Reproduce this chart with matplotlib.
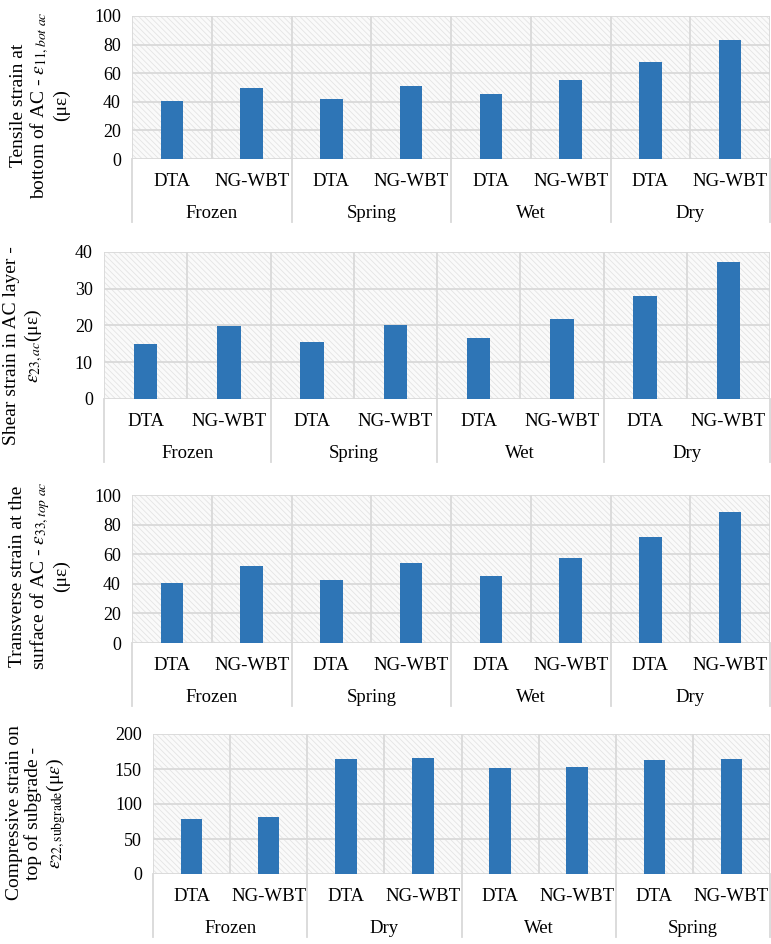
import matplotlib
matplotlib.use("Agg")
from matplotlib import pyplot as plt
from matplotlib.patches import Rectangle
from matplotlib.lines import Line2D

plt.rcParams['font.family'] = ['Liberation Serif', 'DejaVu Serif']
plt.rcParams['mathtext.fontset'] = 'stix'
plt.rcParams['hatch.color'] = '#e4e4e4'
plt.rcParams['hatch.linewidth'] = 0.6

methods = ["DTA", "NG-WBT"]

seasons_1 = ["Frozen", "Spring", "Wet", "Dry"]
tensile_bot = [40.6, 49.4, 42.2, 51.3, 45.5, 55.2, 68.0, 83.4]

seasons_2 = ["Frozen", "Spring", "Wet", "Dry"]
shear_ac = [15.0, 19.9, 15.4, 20.2, 16.6, 21.9, 28.1, 37.2]

seasons_3 = ["Frozen", "Spring", "Wet", "Dry"]
transverse_top = [40.8, 52.0, 42.4, 53.8, 45.3, 57.5, 71.8, 88.5]

seasons_4 = ["Frozen", "Dry", "Wet", "Spring"]
compressive_sub = [78.6, 81.0, 163.8, 165.2, 151.0, 152.4, 162.4, 164.8]

BAR = "#2e75b6"
GRID = "#d9d9d9"
W, H = 771, 944

panels = [
    # (left px, top px, bottom px, ymax, ystep, seasons, values, ylabel, label x, label y)
    (132, 16, 159, 100, 20, seasons_1, tensile_bot,
     "Tensile strain at\nbottom of AC - $\\varepsilon_{11,bot\\ ac}$\n(με)", 40, 105),
    (104, 252, 399, 40, 10, seasons_2, shear_ac,
     "Shear strain in AC layer -\n$\\varepsilon_{23,ac}$(με)", 24, 346),
    (132, 495, 643, 100, 20, seasons_3, transverse_top,
     "Transverse strain at the\nsurface of AC - $\\varepsilon_{33,top\\ ac}$\n(με)", 40, 576),
    (153, 734, 874, 200, 50, seasons_4, compressive_sub,
     "Compressive strain on\ntop of subgrade -\n$\\varepsilon_{22,\\mathrm{subgrade}}$(μ$\\varepsilon$)", 37, 813),
]

fig = plt.figure(figsize=(W / 100, H / 100), dpi=100)

for left, top, bottom, ymax, ystep, seasons, values, ylabel, lx, ly in panels:
    right = 770
    ax = fig.add_axes([left / W, 1 - bottom / H, (right - left) / W, (bottom - top) / H])
    n = len(values)
    x = list(range(n))

    ax.set_xlim(-0.5, n - 0.5)
    ax.set_ylim(0, ymax)
    ax.add_patch(Rectangle((0, 0), 1, 1, transform=ax.transAxes, facecolor="#fafafa",
                           hatch="\\\\\\\\\\\\", edgecolor="#e4e4e4", linewidth=0, zorder=0))

    # grid: horizontal at ticks, vertical between every bar
    yt = list(range(0, ymax + 1, ystep))
    for y in yt:
        ax.axhline(y, color=GRID, lw=1.3, zorder=1)
    for b in range(n + 1):
        ax.axvline(b - 0.5, color=GRID, lw=1.3, zorder=1)

    ax.bar(x, values, width=0.28, color=BAR, zorder=3)

    for s in ax.spines.values():
        s.set_visible(False)
    ax.set_xticks([])
    ax.set_yticks(yt)
    ax.tick_params(axis="y", length=0, pad=8, labelsize=13)

    # two-level category axis
    hpx = bottom - top
    for i in x:
        ax.annotate(methods[i % 2], (i, 0), xycoords=("data", "axes fraction"),
                    xytext=(0, -16), textcoords="offset points",
                    ha="center", va="center", fontsize=13.5)
    for g, name in enumerate(seasons):
        ax.annotate(name, (2 * g + 0.5, 0), xycoords=("data", "axes fraction"),
                    xytext=(0, -39.5), textcoords="offset points",
                    ha="center", va="center", fontsize=13.5)
    depth = 63 / hpx
    for g in range(len(seasons) + 1):
        ax.add_line(Line2D([2 * g - 0.5] * 2, [0, -depth], transform=ax.get_xaxis_transform(),
                           color=GRID, lw=1.3, clip_on=False))

    fig.text(lx / W, 1 - ly / H, ylabel, rotation=90, ha="center", va="center",
             fontsize=14, linespacing=1.1, multialignment="center")

fig.savefig("out.png", dpi=100)
